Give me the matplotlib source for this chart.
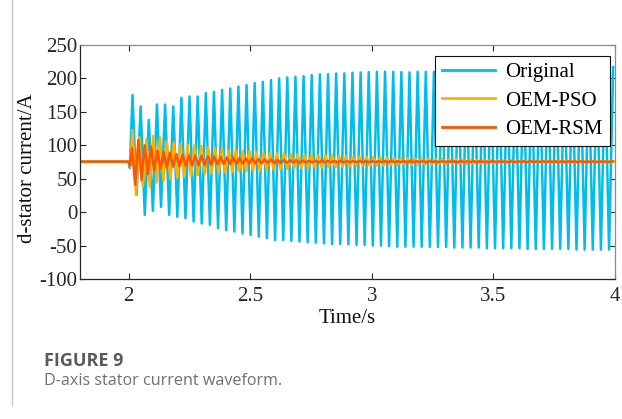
import numpy as np
import matplotlib
matplotlib.use("Agg")
import matplotlib.pyplot as plt
from matplotlib.lines import Line2D

# 波形数据：每个周期的峰值与谷值 (A)
steady_level = 75.5

# Original
orig_t0, orig_period = 2.016, 0.0335
orig_dip = 66
orig_peaks = [175, 158, 138, 161, 161, 158, 171, 173, 173, 178,
              180, 183, 185, 188, 190, 193, 195, 197.5, 200, 201.5,
              202.5, 203.5, 205, 206, 206.5, 207.5, 207.5, 208.5, 209, 209.5,
              210, 210, 210, 209.5, 209, 210, 210, 210, 210, 211,
              211, 211, 212, 212, 212, 213, 213, 213, 214, 214,
              214, 215, 215, 215, 216, 216, 216, 217, 217, 217]
orig_troughs = [25.6, -4, 2, 8, -4, -7, -9, -14, -17, -19,
                -24, -27, -29, -32, -34, -36.7, -39, -41.7, -41.7, -43,
                -44, -45, -45.7, -46.7, -47.7, -47.7, -48, -49, -49, -50,
                -50, -50.7, -51.7, -51.7, -51.7, -51.7, -52, -52, -52, -53,
                -53, -53, -53, -54, -54, -54, -54, -54, -55, -55,
                -55, -55, -55, -55, -56, -56, -56, -56, -56]

# OEM-PSO
pso_t0, pso_period = 2.016, 0.0283
pso_dip = 68
pso_peaks = [123, 112, 109, 114, 112, 106, 104, 102, 101, 100,
             99, 97, 95, 94, 93, 92, 91, 91, 90, 89,
             89, 88, 88, 87, 87, 86, 86, 85, 85, 85,
             84, 84, 83, 83, 83, 82, 82, 82, 81, 81,
             81, 80.5, 80, 80, 79.5, 79.5, 79, 79, 78.5, 78.5,
             78, 78, 78, 77.5, 77.5, 77.5, 77, 77, 77, 77,
             76.5, 76.5, 76.5, 76.5, 76.5, 76, 76, 76, 76, 76, 76]
pso_troughs = [26, 38, 38, 44, 47, 49, 51, 53, 54, 55.5,
               57, 58, 59, 60, 60.5, 61, 61.5, 62, 62.5, 63,
               63.5, 64, 64.5, 65, 65.5, 65.5, 66, 66.5, 67, 67.5,
               68, 68, 68.5, 69, 69, 69.5, 69.5, 70, 70, 70.5,
               70.5, 71, 71, 71.5, 71.5, 72, 72, 72.5, 72.5, 73,
               73, 73, 73.5, 73.5, 73.5, 74, 74, 74, 74, 74.5,
               74.5, 74.5, 74.5, 74.5, 75, 75, 75, 75, 75, 75]

# OEM-RSM
rsm_t0, rsm_period = 2.014, 0.026
rsm_dip = 70
rsm_peaks = [95.5, 108, 100, 98, 92, 90, 89, 87, 85.5, 85,
             84.5, 84, 83.5, 83, 82.5, 82, 81.5, 81, 80.5, 80,
             79.5, 79, 78.5, 78, 78, 77.5, 77.5, 77, 77, 77,
             76.8, 76.8, 76.6, 76.6, 76.5, 76.5, 76.4, 76.4, 76.3, 76.3,
             76.3, 76.3, 76.2, 76.2, 76.2, 76.2, 76.2, 76.2, 76.1, 76.1,
             76.1, 76.1, 76.1, 76.1, 76.1, 76.1, 76.0, 76.0, 76.0, 76.0,
             76.0, 76.0, 76.0, 76.0, 76.0, 76.0, 76.0, 76.0, 76.0, 76.0,
             76.0, 76.0, 76.0, 76.0, 76.0, 76.0, 76.0]
rsm_troughs = [41, 48, 57, 62, 65, 67, 68, 68.5, 69, 69.5,
               70, 70.5, 71, 71.5, 72, 72, 72.5, 72.5, 73, 73,
               73, 73.5, 73.5, 73.5, 74, 74, 74, 74.2, 74.2, 74.4,
               74.4, 74.5, 74.5, 74.6, 74.6, 74.7, 74.7, 74.7, 74.8, 74.8,
               74.8, 74.8, 74.9, 74.9, 74.9, 74.9, 74.9, 74.9, 75.0, 75.0,
               75.0, 75.0, 75.0, 75.0, 75.0, 75.0, 75.0, 75.0, 75.0, 75.0,
               75.0, 75.0, 75.0, 75.0, 75.0, 75.0, 75.0, 75.0, 75.0, 75.0,
               75.0, 75.0, 75.0, 75.0, 75.0, 75.0]

series_names = ["Original", "OEM-PSO", "OEM-RSM"]
series_colors = ["#00BDEB", "#FFB000", "#FF5500"]

x_ticks = [2, 2.5, 3, 3.5, 4]
x_tick_labels = ["2", "2.5", "3", "3.5", "4"]
y_ticks = [-100, -50, 0, 50, 100, 150, 200, 250]


def build_wave(t0, period, dip, peaks, troughs):
    """把峰谷序列拼成折线 (时间, 电流)"""
    t = [1.8, 2.0, t0 - period / 3]
    v = [steady_level, steady_level, dip]
    for i, p in enumerate(peaks):
        t.append(t0 + i * period)
        v.append(p)
        if i < len(troughs):
            t.append(t0 + (i + 0.5) * period)
            v.append(troughs[i])
    return np.array(t), np.array(v)


plt.rcParams["font.family"] = ["Liberation Serif", "DejaVu Serif"]
plt.rcParams["axes.unicode_minus"] = False

fig = plt.figure(figsize=(6.22, 4.19), dpi=100)
ax = fig.add_axes([0.1286, 0.3341, 0.8601, 0.5585])

waves = [
    build_wave(orig_t0, orig_period, orig_dip, orig_peaks, orig_troughs),
    build_wave(pso_t0, pso_period, pso_dip, pso_peaks, pso_troughs),
    build_wave(rsm_t0, rsm_period, rsm_dip, rsm_peaks, rsm_troughs),
]
for (t, v), name, color in zip(waves, series_names, series_colors):
    ax.plot(t, v, color=color, linewidth=1.8, label=name)

ax.set_xlim(1.8, 4.0)
ax.set_ylim(-100, 250)
ax.set_xticks(x_ticks)
ax.set_xticklabels(x_tick_labels)
ax.set_yticks(y_ticks)
ax.tick_params(direction="in", top=True, right=True, length=4, width=0.8,
               labelsize=15, colors="#262626")
ax.tick_params(axis="x", pad=6)
ax.tick_params(axis="y", pad=2)
for side in ["left", "bottom"]:
    ax.spines[side].set_color("#262626")
for side in ["top", "right"]:
    ax.spines[side].set_color("#8c8c8c")
for s in ax.spines.values():
    s.set_linewidth(0.9)

ax.set_xlabel("Time/s", fontsize=15, labelpad=2, color="#111111")
ax.set_ylabel("d-stator current/A", fontsize=15, color="#111111")
ax.yaxis.set_label_coords(-0.08, 0.475)

leg = ax.legend(loc="upper right", fontsize=15, frameon=True, fancybox=False,
                framealpha=1, edgecolor="#111111", handlelength=2.5,
                handletextpad=0.5, borderpad=0.35, labelspacing=0.42,
                borderaxespad=0.0, bbox_to_anchor=(0.99, 0.955))
leg.get_frame().set_linewidth(0.8)
for line in leg.get_lines():
    line.set_linewidth(2)

# 图题
fig.text(44 / 622, 1 - 361 / 419, "FIGURE 9", fontsize=13, fontweight="bold",
         color="#5a5a5a", family=["Open Sans", "DejaVu Sans"], va="center")
fig.text(44 / 622, 1 - 381 / 419, "D-axis stator current waveform.", fontsize=11.6,
         color="#707070", family=["Open Sans", "DejaVu Sans"], va="center")
fig.add_artist(Line2D([12 / 622, 12 / 622], [1, 1 - 405 / 419],
                      transform=fig.transFigure, color="#c8c8c8", linewidth=1))

fig.savefig("out.png", dpi=100)
